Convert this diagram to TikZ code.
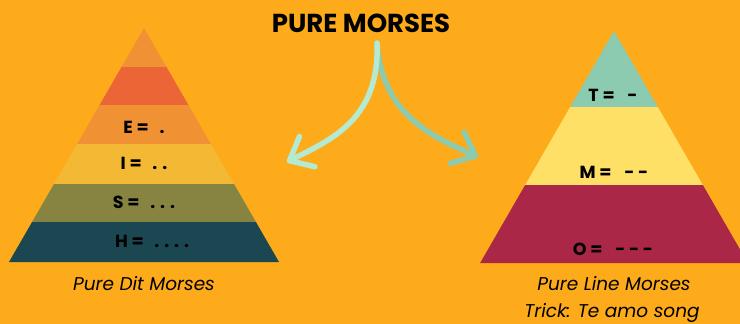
\documentclass[tikz,border=0pt]{standalone}
\usepackage{fontspec}
\setmainfont{Poppins}
\usetikzlibrary{arrows.meta}
\usepackage{xcolor}
\definecolor{bgcolor}{RGB}{253,170,27}
\definecolor{ditA}{RGB}{240,146,52}
\definecolor{ditB}{RGB}{236,101,54}
\definecolor{ditC}{RGB}{243,185,52}
\definecolor{ditD}{RGB}{135,132,66}
\definecolor{ditE}{RGB}{26,71,82}
\definecolor{lineA}{RGB}{141,203,176}
\definecolor{lineB}{RGB}{255,224,102}
\definecolor{lineC}{RGB}{171,39,72}
\definecolor{arrowlight}{RGB}{180,234,207}
\definecolor{arrowdark}{RGB}{141,203,176}
\tikzset{
    titlebox/.style={font=\bfseries\fontsize{26}{26}\selectfont, anchor=base, inner sep=0pt},
    morse/.style={font=\bfseries\fontsize{17.5}{17.5}\selectfont, anchor=base, inner sep=0pt},
    caption/.style={font=\itshape\fontsize{18.5}{18.5}\selectfont, anchor=base, inner sep=0pt},
    bendarrow/.style={-{Straight Barb[length=20pt,width=34pt,round]}, line width=5.5pt, line cap=round}
}
% one horizontal slice of a pyramid: apex x, apex y, top y, bottom y, colour
\newcommand{\pyrband}[5]{%
    \fill[#5] ({#1-0.577*(#3-#2)},#3) -- ({#1+0.577*(#3-#2)},#3)
        -- ({#1+0.577*(#4-#2)},#4) -- ({#1-0.577*(#4-#2)},#4) -- cycle;}

\begin{document}
\begin{tikzpicture}[x=1pt, y=-1pt]
    \useasboundingbox (0,0) rectangle (740,324);
    \clip (0,0) rectangle (740,324);
    \fill[bgcolor] (0,0) rectangle (740,324);

    % dit pyramid
    \pyrband{144}{28}{28}{67}{ditA}
    \pyrband{144}{28}{67}{105}{ditB}
    \pyrband{144}{28}{105}{144}{ditA}
    \pyrband{144}{28}{144}{184}{ditC}
    \pyrband{144}{28}{184}{222}{ditD}
    \pyrband{144}{28}{222}{262}{ditE}

    % line pyramid
    \pyrband{614}{31}{31}{107}{lineA}
    \pyrband{614}{31}{107}{185}{lineB}
    \pyrband{614}{31}{185}{263}{lineC}

    \node[titlebox] (title) at (361,32) {PURE MORSES};

    \node[morse] (e) at (144,133) {E = \hspace{7pt}.};
    \node[morse] (i) at (144,169) {I = \hspace{7pt}. .};
    \node[morse] (s) at (144,208) {S = \hspace{7pt}. . .};
    \node[morse] (h) at (152,247) {H = \hspace{7pt}. . . .};

    \node[morse] (t) at (613,101) {T = \hspace{9pt}-};
    \node[morse] (m) at (614,178) {M = \hspace{9pt}- -};
    \node[morse] (o) at (613,255) {O = \hspace{9pt}- - -};

    \node[caption] (ditcap) at (144,290) {Pure Dit Morses};
    \node[caption] (linecap) at (614,290) {Pure Line Morses};
    \node[caption] (trick) at (612,317) {Trick: Te amo song};

    \coordinate (fork) at (377,43);
    \coordinate (ditend) at (287,162);
    \coordinate (lineend) at (478,157);

    \draw[bendarrow, arrowdark] (fork) .. controls (382,115) and (433,137) .. (lineend);
    \draw[bendarrow, arrowlight] (fork) .. controls (380,120) and (330,140) .. (ditend);
\end{tikzpicture}
\end{document}
